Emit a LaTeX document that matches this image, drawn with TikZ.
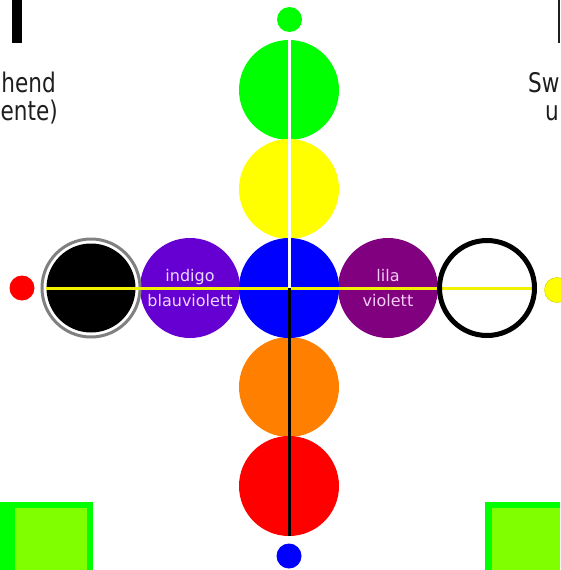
\documentclass[tikz,border=0pt]{standalone}
\usepackage{fontspec}
\setmainfont{DejaVu Sans}
\newfontfamily\headfont[FakeStretch=0.8]{DejaVu Sans}
\definecolor{cgreen}{RGB}{0,255,0}
\definecolor{cyellow}{RGB}{255,255,0}
\definecolor{cblue}{RGB}{0,0,255}
\definecolor{corange}{RGB}{255,128,0}
\definecolor{cred}{RGB}{255,0,0}
\definecolor{cindigo}{RGB}{102,0,210}
\definecolor{cviolet}{RGB}{128,0,128}
\definecolor{cchart}{RGB}{128,255,0}
\definecolor{ctext}{RGB}{30,30,30}
\definecolor{cinnertext}{RGB}{235,215,255}
\definecolor{cinnertextb}{RGB}{245,205,245}
\definecolor{cgray}{RGB}{128,128,128}
\tikzset{
  bigdisc/.style={circle, inner sep=0pt, minimum size=100pt},
  smalldot/.style={circle, inner sep=0pt, minimum size=25pt},
  headtext/.style={font=\headfont\fontsize{27}{28}\selectfont, text=ctext, inner sep=0pt},
  discl/.style={font=\fontsize{16}{17}\selectfont, inner sep=0pt, anchor=base},
  axis/.style={line width=3pt}
}
\begin{document}
\begin{tikzpicture}[x=1pt,y=-1pt]
\useasboundingbox (0,0) rectangle (560,570);
% top bars
\fill[black] (12,0) rectangle (22,43);
\fill[ctext] (557.5,0) rectangle (560,43);
% head texts
\node[headtext, anchor=base east] (tl1) at (56,92) {hend};
\node[headtext, anchor=base east] (tl2) at (58,120) {ente)};
\node[headtext, anchor=base west] (tr1) at (528,92) {Sw};
\node[headtext, anchor=base west] (tr2) at (545,120) {u};
% bottom rects
\fill[cgreen] (0,502) rectangle (93,570);
\fill[cchart] (15,508) rectangle (87,570);
\fill[cgreen] (485,502) rectangle (560,570);
\fill[cchart] (492,508) rectangle (560,570);
% vertical discs
\node[bigdisc, fill=cgreen] (green) at (289,90) {};
\node[bigdisc, fill=cyellow] (yellow) at (289,189) {};
\node[bigdisc, fill=corange] (orange) at (289,387) {};
\node[bigdisc, fill=cred] (red) at (289,486) {};
% horizontal discs
\node[bigdisc, fill=cindigo] (indigo) at (190,288) {};
\node[bigdisc, fill=cviolet] (violet) at (388,288) {};
\node[bigdisc, fill=cblue] (blue) at (289,288) {};
\node[circle, inner sep=0pt, minimum size=98pt, draw=cgray, line width=3pt] (blackring) at (91,288) {};
\node[circle, inner sep=0pt, minimum size=89pt, fill=black] (black) at (91,288) {};
% small dots
\node[smalldot, fill=cgreen] (dgreen) at (289.5,19.5) {};
\node[smalldot, fill=cblue] (dblue) at (289,556) {};
\node[smalldot, fill=cred] (dred) at (22,288) {};
\node[smalldot, fill=cyellow, draw=cyellow!85!black, line width=0.6pt] (dyellow) at (557,290) {};
% white ring (placed for the line end)
\coordinate (ringc) at (487,288);
\coordinate (lineend) at (534,288);
% axes
\draw[axis, draw=cyellow!95!black] (black.west) -- (lineend);
\draw[axis, draw=white] (green.north) -- (blue.center);
\draw[axis, draw=black] (blue.center) -- (red.south);
\node[circle, inner sep=0pt, minimum size=95pt, draw=black, line width=5pt] (whitering) at (ringc) {};
% labels
\node[discl, text=cinnertext] (l1) at (190,281) {indigo};
\node[discl, text=cinnertext] (l2) at (190,306) {blauviolett};
\node[discl, text=cinnertextb] (l3) at (388,281) {lila};
\node[discl, text=cinnertextb] (l4) at (388,306) {violett};
\end{tikzpicture}
\end{document}
